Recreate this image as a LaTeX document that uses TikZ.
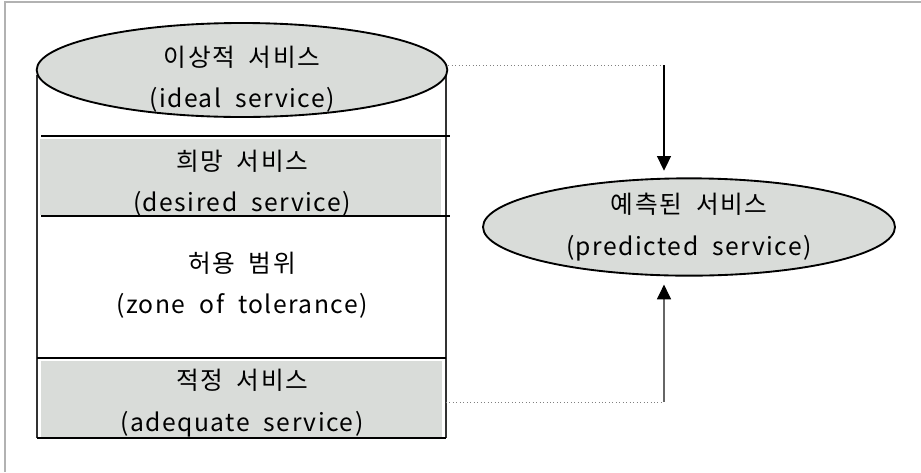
\documentclass[tikz,border=0pt]{standalone}
\usepackage{fontspec}
\setmainfont{Noto Sans CJK KR}[LetterSpace=6, WordSpace=2]
\usetikzlibrary{shapes.geometric,arrows.meta}
\definecolor{bandgray}{RGB}{217,220,217}
\begin{document}
\begin{tikzpicture}[x=0.75pt, y=-0.75pt,
    oval/.style={draw, ellipse, line width=1.4pt, fill=bandgray, inner sep=0pt},
    band/.style={fill=bandgray, inner sep=0pt, minimum width=301pt, minimum height=57pt},
    txt/.style={align=center, font=\fontsize{18.5}{31}\selectfont},
    guide/.style={draw=gray, dotted, line width=0.6pt},
    wall/.style={line width=1.2pt, draw=black!80}]
  \useasboundingbox (0,0) rectangle (921,472);
  \draw[black!30, line width=1.5pt] (5,472) -- (5,2) -- (921,2);
  % bands of the expectation column
  \node[band] (desired) at (240.5,177) {};
  \node[band] (adequate) at (241.5,398.5) {};
  \draw[wall] (37,75) -- (37,438);
  \draw[wall] (446,70) -- (446,438);
  \draw[line width=0.8pt] (41,136) -- (450,136);
  \draw[line width=0.8pt] (41,216) -- (450,216);
  \draw[line width=0.8pt] (37,358) -- (446,358);
  \draw[line width=0.8pt] (37,438) -- (446,438);
  \coordinate (rwall) at (446,438);
  \node[oval, minimum width=308pt, minimum height=70.5pt] (ideal) at (242,70) {};
  \node[txt] (idealtxt) at (242,79) {이상적 서비스\\(ideal service)};
  \node[txt] (desiredtxt) at (242,183) {희망 서비스\\(desired service)};
  \node[txt] (zone) at (242,285) {허용 범위\\(zone of tolerance)};
  \node[txt] (adequatetxt) at (242,403) {적정 서비스\\(adequate service)};
  % predicted service and its two bounds
  \node[oval, txt, minimum width=309pt, minimum height=73pt] (pred) at (689,227) {예측된 서비스\\(predicted service)};
  \coordinate (topbend) at (664,65);
  \coordinate (botbend) at (664,402);
  \draw[guide] (ideal.east |- topbend) -- (topbend);
  \draw[guide] (rwall |- botbend) -- (botbend);
  \draw[-{Triangle[width=10.5pt,length=11pt]}, line width=0.8pt, shorten >=5pt] (topbend) -- (topbend |- pred.north);
  \draw[-{Triangle[width=10.5pt,length=11pt,color=black]}, line width=0.8pt, black!60, shorten >=6pt] (botbend) -- (botbend |- pred.south);
\end{tikzpicture}
\end{document}
